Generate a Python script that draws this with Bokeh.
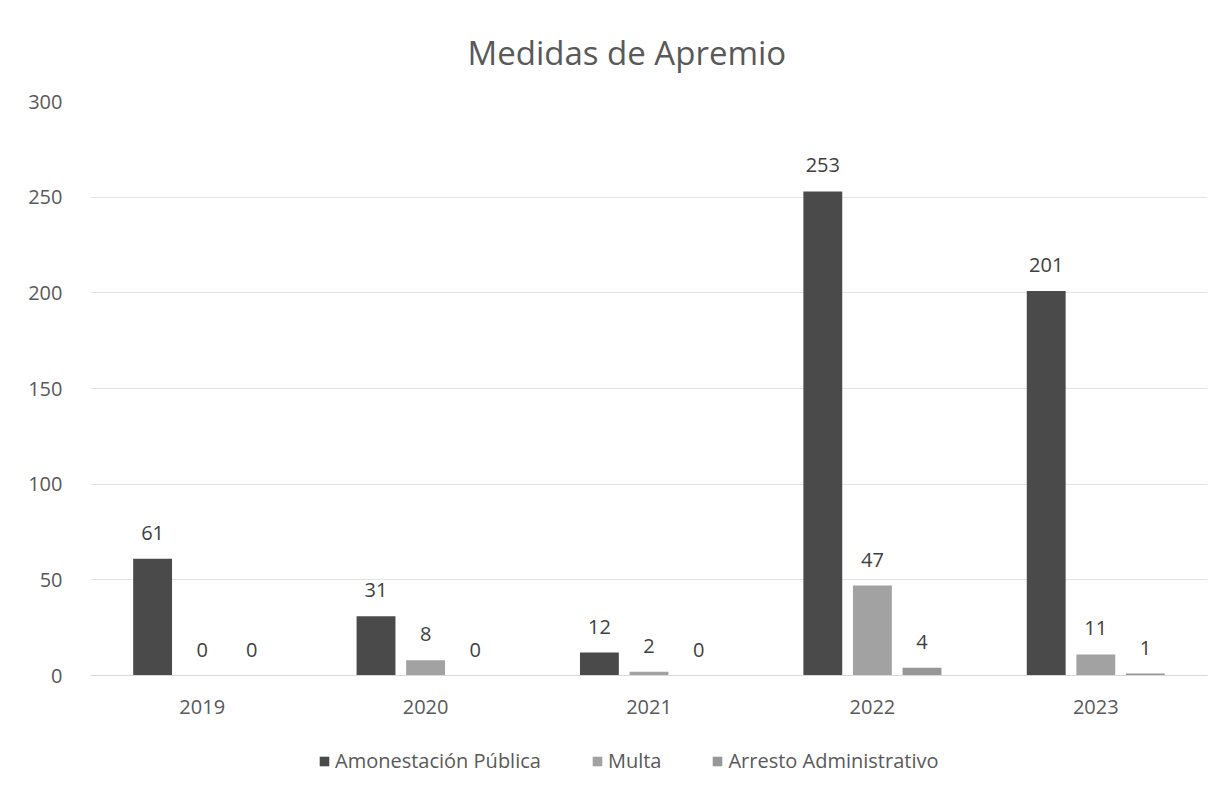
from bokeh.plotting import figure
from bokeh.layouts import column
from bokeh.models import FactorRange, Range1d, FixedTicker, Legend, LegendItem, ColumnDataSource
from bokeh.transform import dodge
from bokeh.core.properties import value
from bokeh.embed import file_html
from bokeh.resources import INLINE

years = ["2019", "2020", "2021", "2022", "2023"]
amonestacion = [61, 31, 12, 253, 201]
multa = [0, 8, 2, 47, 11]
arresto = [0, 0, 0, 4, 1]
series_names = ["Amonestación Pública", "Multa", "Arresto Administrativo"]
y_ticks = [0, 50, 100, 150, 200, 250, 300]
title_text = "Medidas de Apremio"

colors = ["#4a4a4a", "#a2a2a2", "#979797"]
FONT = "Open Sans"
TXT = "#595959"

src = ColumnDataSource(dict(
    years=years,
    amonestacion=amonestacion,
    multa=multa,
    arresto=arresto,
    lab_a=[str(v) for v in amonestacion],
    lab_m=[str(v) for v in multa],
    lab_r=[str(v) for v in arresto],
))

p = figure(
    x_range=FactorRange(*years),
    y_range=Range1d(0, 300),
    frame_width=1117, frame_height=574,
    output_backend="svg", toolbar_location=None,
    min_border_left=90, min_border_right=10,
    min_border_top=101, min_border_bottom=65,
)
p.outline_line_color = None
p.background_fill_color = "white"
p.border_fill_color = "white"

p.title.text = title_text
p.title.align = "left"
p.title.text_font = FONT
p.title.text_font_size = "33px"
p.title.text_font_style = "normal"
p.title.text_color = TXT
p.title.standoff = 54
p.title.offset = 377

step = 0.222
bw = 0.174
fields = ["amonestacion", "multa", "arresto"]
labs = ["lab_a", "lab_m", "lab_r"]
offsets = [-step, 0.0, step]
for f, lab, off, c in zip(fields, labs, offsets, colors):
    p.vbar(x=dodge("years", off, range=p.x_range), top=f, width=bw, bottom=0,
           source=src, fill_color=c, line_color=None)
    p.text(x=dodge("years", off, range=p.x_range), y=f, text=lab, source=src,
           text_align="center", text_baseline="middle", y_offset=-26,
           text_font=value(FONT), text_font_size="20px", text_color="#404040")

# axes
p.yaxis.ticker = FixedTicker(ticks=y_ticks)
p.yaxis.axis_line_color = None
p.yaxis.major_tick_line_color = None
p.yaxis.minor_tick_line_color = None
p.yaxis.major_label_text_font = FONT
p.yaxis.major_label_text_font_size = "20px"
p.yaxis.major_label_text_color = TXT
p.yaxis.major_label_standoff = 22

p.xaxis.axis_line_color = "#d9d9d9"
p.xaxis.axis_line_width = 1
p.xaxis.major_tick_line_color = None
p.xaxis.minor_tick_line_color = None
p.xaxis.major_label_text_font = FONT
p.xaxis.major_label_text_font_size = "20px"
p.xaxis.major_label_text_color = TXT
p.xaxis.major_label_standoff = 18

p.xgrid.grid_line_color = None
p.ygrid.grid_line_color = "#e3e3e3"
p.ygrid.grid_line_width = 1

# legend strip (separate figure below the chart); its renderers are hidden
leg_fig = figure(
    width=1217, height=36, x_range=p.x_range, y_range=Range1d(1000, 1001),
    output_backend="svg", toolbar_location=None,
    x_axis_location=None, y_axis_location=None,
    min_border_left=0, min_border_right=0, min_border_top=0, min_border_bottom=0,
)
leg_fig.outline_line_color = None
leg_fig.xgrid.grid_line_color = None
leg_fig.ygrid.grid_line_color = None
leg_fig.border_fill_color = "white"
leg_renderers = []
for f, off, c in zip(fields, offsets, colors):
    r = leg_fig.vbar(x=dodge("years", off, range=p.x_range), top=f, width=bw, bottom=0,
                     source=src, fill_color=c, line_color=None, visible=False)
    leg_renderers.append(r)
legend = Legend(
    items=[LegendItem(label=n, renderers=[r]) for n, r in zip(series_names, leg_renderers)],
    orientation="horizontal",
    location=(228, 2),
    label_text_font=FONT, label_text_font_size="20px", label_text_color=TXT,
    glyph_width=12, glyph_height=12, label_standoff=5, spacing=50,
    padding=0, margin=0, border_line_color=None, background_fill_alpha=0,
    label_height=20, inactive_fill_alpha=0,
)
leg_fig.add_layout(legend, "center")

layout = column(p, leg_fig, spacing=0)
open("out.html", "w").write(file_html(layout, INLINE))
